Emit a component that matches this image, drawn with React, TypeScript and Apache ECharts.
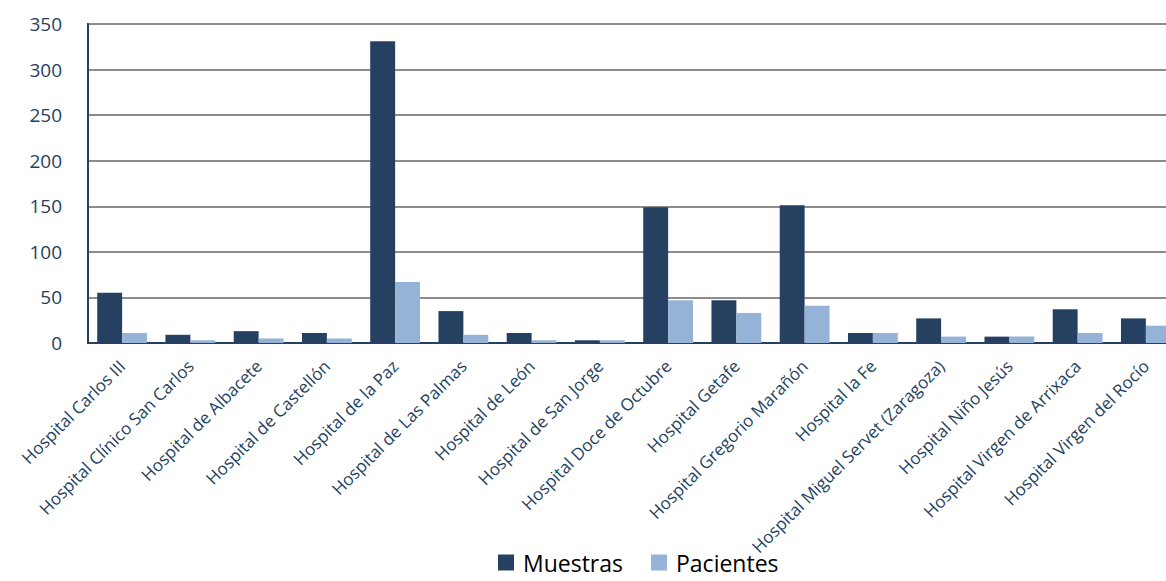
import React, { useEffect, useRef } from "react";
import * as echarts from "echarts";

const categories = [
  "Hospital Carlos III",
  "Hospital Clínico San Carlos",
  "Hospital de Albacete",
  "Hospital de Castellón",
  "Hospital de la Paz",
  "Hospital de Las Palmas",
  "Hospital de León",
  "Hospital de San Jorge",
  "Hospital Doce de Octubre",
  "Hospital Getafe",
  "Hospital Gregorio Marañón",
  "Hospital la Fe",
  "Hospital Miguel Servet (Zaragoza)",
  "Hospital Niño Jesús",
  "Hospital Virgen de Arrixaca",
  "Hospital Virgen del Rocío",
];

const muestras = [55, 9, 13, 11, 331, 35, 11, 3, 149, 47, 151, 11, 27, 7, 37, 27];
const pacientes = [11, 3, 5, 5, 67, 9, 3, 3, 47, 33, 41, 11, 7, 7, 11, 19];

const DARK = "#264061";
const LIGHT = "#95B3D7";
const TEXT = "#243F60";
const FONT = "'Open Sans', 'Noto Sans', sans-serif";

export default function App() {
  const ref = useRef<HTMLDivElement>(null);

  useEffect(() => {
    if (!ref.current) return;
    const chart = echarts.init(ref.current, null, { renderer: "svg" });
    chart.setOption({
      animation: false,
      backgroundColor: "#ffffff",
      textStyle: { fontFamily: FONT },
      grid: {
        left: 88,
        top: 24,
        bottom: 238,
        right: 0,
        show: true,
        borderColor: DARK,
        borderWidth: 2,
      },
      legend: {
        top: 551,
        left: 498,
        padding: 0,
        itemWidth: 16,
        itemHeight: 16,
        itemGap: 28,
        icon: "rect",
        textStyle: { fontSize: 23, color: "#000000", fontFamily: FONT, padding: [0, 0, 0, 4] },
        data: ["Muestras", "Pacientes"],
      },
      xAxis: {
        type: "category",
        data: categories,
        axisLine: { show: true, lineStyle: { color: DARK, width: 2 } },
        axisTick: { show: false },
        axisLabel: {
          rotate: 45,
          interval: 0,
          margin: 20,
          fontSize: 17,
          color: TEXT,
          fontFamily: FONT,
        },
      },
      yAxis: {
        type: "value",
        min: 0,
        max: 350,
        interval: 50,
        axisLine: { show: true, lineStyle: { color: DARK, width: 2 } },
        axisTick: { show: false },
        splitLine: { show: true, lineStyle: { color: "#8c8c8c", width: 2 } },
        axisLabel: { fontSize: 19, color: TEXT, margin: 26, fontFamily: FONT },
      },
      series: [
        {
          name: "Muestras",
          type: "bar",
          data: muestras,
          barGap: "0%",
          barCategoryGap: "27%",
          itemStyle: { color: DARK },
        },
        {
          name: "Pacientes",
          type: "bar",
          data: pacientes,
          barGap: "0%",
          barCategoryGap: "27%",
          itemStyle: { color: LIGHT },
        },
      ],
    });
    return () => chart.dispose();
  }, []);

  return (
    <div
      ref={ref}
      style={{ position: "fixed", left: 0, top: 0, width: 1180, height: 581 }}
    />
  );
}
